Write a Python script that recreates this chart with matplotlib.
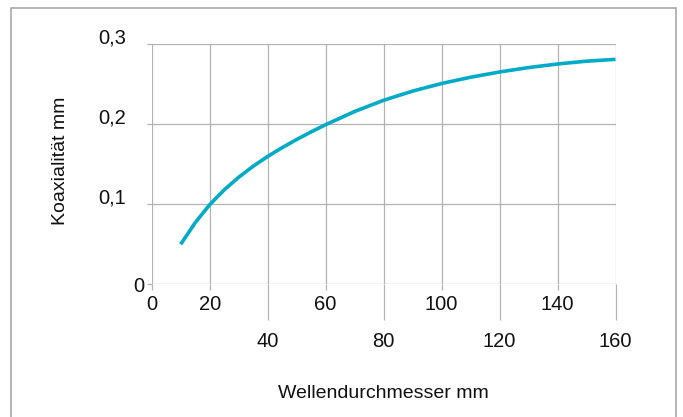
import matplotlib
matplotlib.use("Agg")
import matplotlib.pyplot as plt
from matplotlib.patches import Rectangle
from matplotlib.transforms import ScaledTranslation

# Shaft diameter (mm) and permissible coaxiality (mm)
diameter = [10, 15, 20, 25, 30, 35, 40, 45, 50, 55, 60,
            70, 80, 90, 100, 110, 120, 130, 140, 150, 160]
coaxiality = [0.050, 0.077, 0.0995, 0.118, 0.1338, 0.1476, 0.1598, 0.1708, 0.181, 0.1905, 0.1995,
              0.216, 0.230, 0.2415, 0.251, 0.2588, 0.2654, 0.2709, 0.2754, 0.2789, 0.2812]

x_ticks_row1 = [0, 20, 60, 100, 140]
x_ticks_row2 = [40, 80, 120, 160]
y_ticks = [0, 0.1, 0.2, 0.3]
y_tick_labels = ["0", "0,1", "0,2", "0,3"]

plt.rcParams["font.family"] = ["Liberation Sans", "DejaVu Sans"]

W, H = 683, 417
fig = plt.figure(figsize=(W / 100, H / 100), dpi=100)
fig.patch.set_facecolor("white")

left, right = 151.7, 615.5
top, bottom = 44.3, 284.3
ax = fig.add_axes([left / W, 1 - bottom / H, (right - left) / W, (bottom - top) / H])

grid_col = "#b3b3b3"
line_col = "#00abc8"
text_col = "#111111"

ax.plot(diameter, coaxiality, color=line_col, lw=2.6, solid_capstyle="butt",
        solid_joinstyle="round", clip_on=False, zorder=3)

ax.set_xlim(0, 160)
ax.set_ylim(0, 0.3)
for s in ax.spines.values():
    s.set_visible(False)

ax.set_xticks(x_ticks_row1, labels=[str(v) for v in x_ticks_row1])
ax.set_xticks(x_ticks_row2, labels=[str(v) for v in x_ticks_row2], minor=True)
ax.set_yticks(y_ticks, labels=y_tick_labels)

ax.tick_params(axis="x", which="major", length=4.0, width=0.9, color=grid_col,
               pad=4.0, labelsize=14.5, labelcolor=text_col)
ax.tick_params(axis="x", which="minor", length=26, width=0.9, color=grid_col,
               pad=8.0, labelsize=14.5, labelcolor=text_col)
ax.tick_params(axis="y", which="major", length=3.4, width=0.9, color=grid_col,
               pad=2, labelsize=14.5, labelcolor=text_col)

ax.grid(True, which="both", axis="x", color=grid_col, lw=0.9, zorder=1)
ax.grid(True, which="major", axis="y", color=grid_col, lw=0.9, zorder=1)
ax.set_axisbelow(True)

# non-zero y labels sit above their gridline and further from the axis
for lbl, val in zip(ax.get_yticklabels(), y_ticks):
    if val != 0:
        lbl.set_transform(lbl.get_transform() +
                          ScaledTranslation(-18 / 100, 8 / 100, fig.dpi_scale_trans))

fig.text(383 / W, 1 - 393 / H, "Wellendurchmesser mm", ha="center", va="center",
         fontsize=14, color=text_col)
fig.text(60.5 / W, 1 - 225 / H, "Koaxialität mm", ha="center", va="bottom",
         rotation=90, fontsize=14, color=text_col)

fig.add_artist(Rectangle((11 / W, -0.1), (676 - 11) / W, (H - 7.5) / H + 0.1,
                         transform=fig.transFigure, fill=False,
                         edgecolor="#a8a8a8", lw=1.2))

fig.savefig("out.png", dpi=100, facecolor="white")
